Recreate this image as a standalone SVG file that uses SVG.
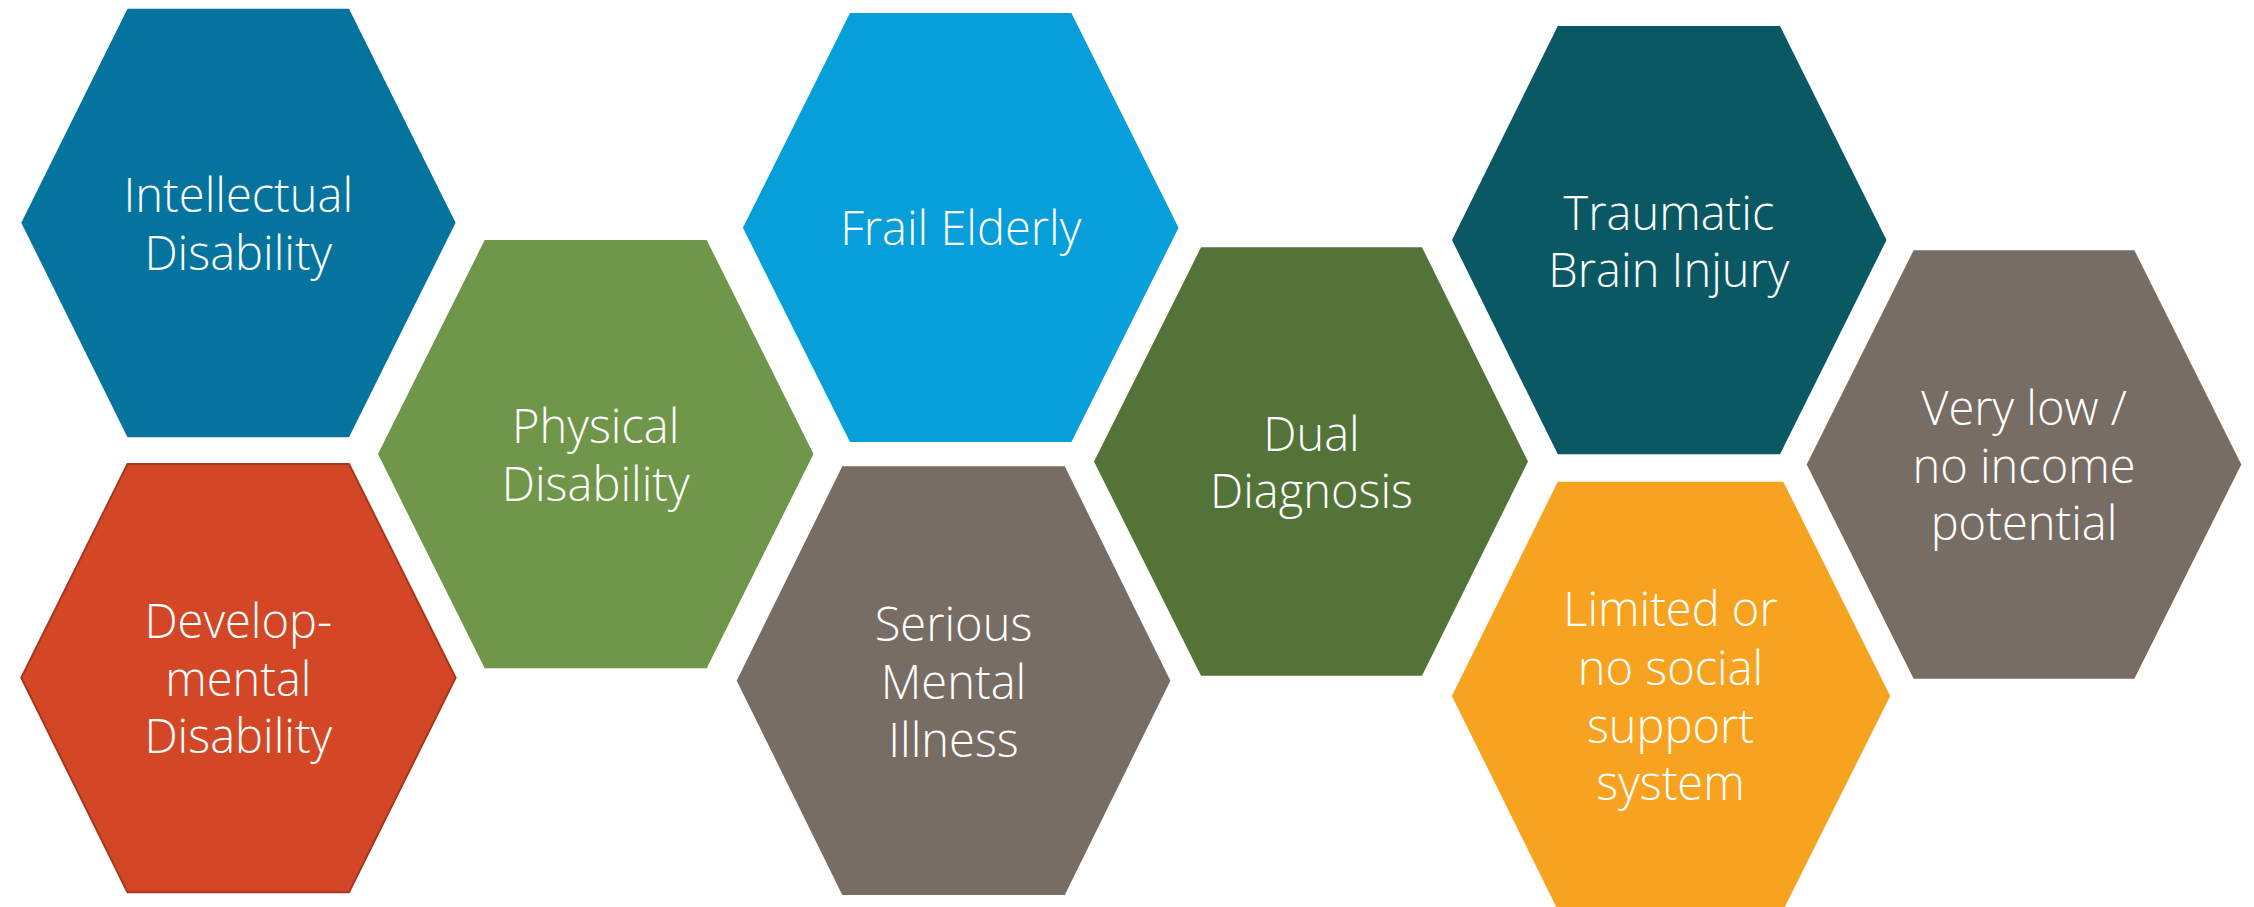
<svg xmlns="http://www.w3.org/2000/svg" width="2254" height="907" viewBox="0 0 2254 907">
<style>
.t{font-family:"Open Sans","Noto Sans",sans-serif;font-weight:300;font-size:47px;fill:#ffffff;text-anchor:middle}
</style>
<rect width="2254" height="907" fill="#ffffff"/>
<g id="connectors"></g>
<g id="n-intellectual">
<polygon points="127.5,8.7 349,8.7 455.6,222.7 349,437.3 127.5,437.3 21.3,222.7" fill="#04749F"/>
<text class="t" x="238.3" y="212.3">Intellectual</text>
<text class="t" x="238.3" y="270">Disability</text>
</g>
<g id="n-physical">
<polygon points="484.7,240 706.7,240 813.5,454 706.7,668.3 484.7,668.3 378,454" fill="#70964A"/>
<text class="t" x="595.7" y="443.3">Physical</text>
<text class="t" x="595.7" y="501">Disability</text>
</g>
<g id="n-developmental">
<polygon points="127.5,464 349,464 455.6,677.7 349,892.3 127.5,892.3 21.3,677.7" fill="#D34726" stroke="#A8361C" stroke-width="2"/>
<text class="t" x="238.3" y="637.7">Develop-</text>
<text class="t" x="238.3" y="696">mental</text>
<text class="t" x="238.3" y="752.7">Disability</text>
</g>
<g id="n-frail">
<polygon points="850,13 1071.4,13 1178.6,227.7 1071.4,442 850,442 742.9,227.7" fill="#069FDA"/>
<text class="t" x="960.7" y="245">Frail Elderly</text>
</g>
<g id="n-serious">
<polygon points="842.3,466.3 1064.8,466.3 1170.4,680.7 1064.8,895 842.3,895 736.7,680.7" fill="#786D64"/>
<text class="t" x="953.5" y="641">Serious</text>
<text class="t" x="953.5" y="699">Mental</text>
<text class="t" x="953.5" y="756.7">Illness</text>
</g>
<g id="n-dual">
<polygon points="1201,247.3 1422,247.3 1528,461.5 1422,675.7 1201,675.7 1094,461.5" fill="#547339"/>
<text class="t" x="1311.5" y="450.7">Dual</text>
<text class="t" x="1311.5" y="508.3">Diagnosis</text>
</g>
<g id="n-traumatic">
<polygon points="1557.8,26 1780,26 1886.5,240 1780,454.3 1557.8,454.3 1452,240" fill="#0A5863"/>
<text class="t" x="1668.9" y="230">Traumatic</text>
<text class="t" x="1668.9" y="286.7">Brain Injury</text>
</g>
<g id="n-limited">
<polygon points="1557.8,481.7 1783.3,481.7 1890.2,696 1783.3,910 1557.8,910 1451.9,696" fill="#F8A31F"/>
<text class="t" x="1670.5" y="626">Limited or</text>
<text class="t" x="1670.5" y="685">no social</text>
<text class="t" x="1670.5" y="743.3">support</text>
<text class="t" x="1670.5" y="800">system</text>
</g>
<g id="n-income">
<polygon points="1913.6,250.3 2134.4,250.3 2241.3,464.5 2134.4,678.7 1913.6,678.7 1806.7,464.5" fill="#786D64"/>
<text class="t" x="2024" y="425">Very low /</text>
<text class="t" x="2024" y="482.7">no income</text>
<text class="t" x="2024" y="540">potential</text>
</g>
</svg>
